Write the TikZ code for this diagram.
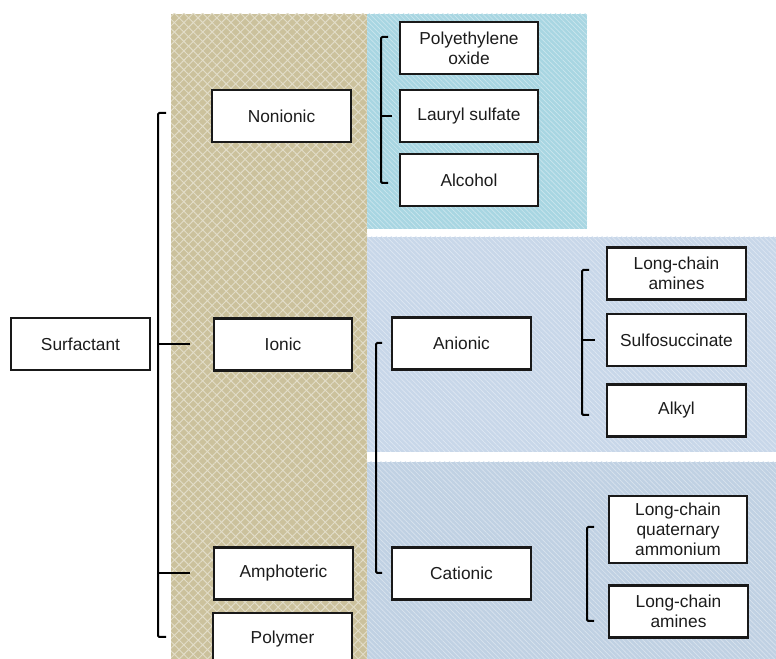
\documentclass[tikz,border=0pt]{standalone}
\usepackage{fontspec}
\setmainfont{Liberation Sans}
\usetikzlibrary{patterns.meta,positioning}
\definecolor{tanbg}{RGB}{203,193,156}
\definecolor{aquabg}{RGB}{168,214,226}
\definecolor{slatebg}{RGB}{200,215,233}
\definecolor{steelbg}{RGB}{192,209,227}
\definecolor{inkgray}{RGB}{28,28,28}

\begin{document}
\begin{tikzpicture}[x=0.75pt, y=-0.75pt,
  every node/.style={font=\fontsize{13}{15}\selectfont, text=inkgray},
  box/.style={draw=black!90, fill=white, line width=1.6pt, align=center, inner sep=0pt, minimum width=104pt, minimum height=39pt},
  tallbox/.style={box, minimum height=50pt},
  brace/.style={draw=black, line width=1.5pt, rounded corners=1pt},
  diamonds/.style={fill=#1,
    postaction={pattern={Lines[angle=45,distance=5pt,line width=0.7pt]}, pattern color=white!45!#1},
    postaction={pattern={Lines[angle=-45,distance=5pt,line width=0.7pt]}, pattern color=white!45!#1}},
  hatched/.style={fill=#1,
    postaction={pattern={Lines[angle=135,distance=2.6pt,line width=0.5pt]}, pattern color=white!40!#1}}]
  \useasboundingbox (0,0) rectangle (776,659);
  \clip (0,0) rectangle (776,659);

  % background panels
  \path[diamonds=tanbg] (171,14) rectangle (367,670);
  \path[hatched=aquabg] (367,14) rectangle (587,229);
  \path[hatched=slatebg] (367,237) rectangle (776,452);
  \path[hatched=steelbg] (367,462) rectangle (776,670);

  % first level
  \node[box] (surf) at (80.5,344) {Surfactant};
  \node[box] (nonionic) at (281.5,116) {Nonionic};
  \node[box] (ionic) at (283,344.5) {Ionic};
  \node[box] (amph) at (283.5,573.5) {Amphoteric};
  \node[box] (polymer) at (282.5,639) {Polymer};

  % nonionic group
  \node[box] (peo) at (469,48) {Polyethylene\\oxide};
  \node[box] (lauryl) at (469,116) {Lauryl sulfate};
  \node[box] (alcohol) at (469,180) {Alcohol};

  % ionic group
  \node[box] (anionic) at (461.5,343.5) {Anionic};
  \node[box] (cationic) at (461.5,573.5) {Cationic};
  \node[box] (lcaA) at (676.5,273.5) {Long-chain\\amines};
  \node[box] (sulfo) at (676.5,340) {Sulfosuccinate};
  \node[box] (alkyl) at (676.5,410.5) {Alkyl};
  \node[tallbox] (lcq) at (678,529.5) {Long-chain\\quaternary\\ammonium};
  \node[box] (lcaB) at (678.5,611.5) {Long-chain\\amines};

  % brackets
  \coordinate (sA) at (158,113); \coordinate (sB) at (158,637);
  \draw[brace] (sA) ++(8,0) -- (sA) -- (sB) -- ++(8,0);
  \draw[brace] (sA |- ionic) -- ++(32,0);
  \draw[brace] (sA |- amph) -- ++(32,0);

  \coordinate (nA) at (381,37); \coordinate (nB) at (381,183);
  \draw[brace] (nA) ++(7,0) -- (nA) -- (nB) -- ++(7,0);
  \draw[brace] (nA |- lauryl) -- ++(11,0);

  \coordinate (iA) at (376,343); \coordinate (iB) at (376,573);
  \draw[brace] (iA) ++(6,0) -- (iA) -- (iB) -- ++(6,0);

  \coordinate (aA) at (582,270); \coordinate (aB) at (582,415);
  \draw[brace] (aA) ++(7,0) -- (aA) -- (aB) -- ++(7,0);
  \draw[brace] (aA |- sulfo) -- ++(13,0);

  \coordinate (cA) at (587,527); \coordinate (cB) at (587,621);
  \draw[brace] (cA) ++(7,0) -- (cA) -- (cB) -- ++(7,0);
\end{tikzpicture}
\end{document}
